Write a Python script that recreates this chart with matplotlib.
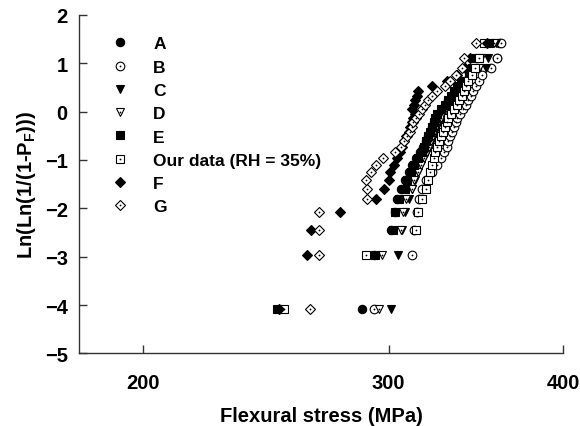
import numpy as np
import matplotlib
matplotlib.use('Agg')
import matplotlib.pyplot as plt
from matplotlib.ticker import FixedLocator, FixedFormatter, NullLocator

plt.rcParams['font.family'] = 'Liberation Sans'
plt.rcParams['font.weight'] = 'bold'
plt.rcParams['mathtext.fontset'] = 'custom'
plt.rcParams['mathtext.rm'] = 'Liberation Sans:bold'
plt.rcParams['mathtext.bf'] = 'Liberation Sans:bold'
plt.rcParams['mathtext.default'] = 'bf'

# Weibull plotting positions Ln(Ln(1/(1-PF))), 30 specimens per series
rank_y = [-4.086, -2.970, -2.442, -2.087, -1.817, -1.597, -1.410, -1.246, -1.099, -0.966,
          -0.842, -0.727, -0.618, -0.514, -0.415, -0.319, -0.225, -0.133, -0.042, 0.049,
          0.140, 0.232, 0.327, 0.425, 0.529, 0.640, 0.765, 0.910, 1.097, 1.410]

# flexural stress (MPa)
stress_A = [287, 293, 301, 303, 304, 306, 308, 310, 312, 314, 316, 317.5, 319, 320, 321,
            322, 323, 324.5, 326, 327.5, 329, 331, 333, 335, 337, 340, 343, 347, 358.7, 360]
stress_B = [293, 311.8, 313, 314.5, 315.5, 317, 319, 322, 325, 327, 328.5, 330, 331, 332, 333,
            334, 335, 336, 337.5, 339, 340.5, 342, 343.5, 345, 346.5, 348, 350, 355, 358.7, 361]
stress_C = [301.3, 304.5, 306.5, 308, 310, 312, 313.5, 315, 316.5, 318, 319.5, 321, 322, 323, 324,
            325, 326, 327.5, 329, 330.5, 332, 333.5, 335, 337, 339, 341, 344, 352, 353.6, 358]
stress_D = [295.4, 296.7, 306, 307, 308.8, 311.7, 313, 315, 316.5, 318, 319.5, 320.5, 321.5, 322.5, 323.5,
            324.5, 325.5, 327, 328.5, 330, 332, 334, 336, 338, 340, 342, 345, 348.4, 349.2, 357]
stress_E = [249.6, 293.5, 302, 303, 305, 308.3, 309.2, 311, 313, 315, 317, 318, 319, 320, 321,
            322, 323, 324, 325, 327, 329, 331, 332.5, 334, 335.5, 338, 342.2, 344, 345.9, 354]
stress_ours = [252.3, 289, 314, 315, 317, 318.9, 320, 321, 322, 323, 324, 325, 326, 327, 328,
               329, 330, 331, 332.5, 334, 335.5, 337, 338.5, 339.5, 340.5, 342, 344, 345.6, 348, 351]
stress_F = [250.5, 262, 264, 277, 294, 297.5, 300, 300.8, 302.5, 304, 305.8, 306.6, 307.8, 308.8, 310,
            310.8, 311.7, 312.5, 313.5, 312, 312.8, 313.5, 314.2, 315, 322.3, 330, 336, 340, 342.8, 352.8]
stress_G = [263.4, 267.5, 267.5, 267.3, 289.4, 289.4, 289.2, 291.4, 294, 297, 303, 306, 307.5, 309, 310.5,
            311.5, 312.5, 314, 315.5, 317, 318.5, 320, 322, 325, 329, 332, 335, 338.8, 339.5, 346.5]

series_labels = ['A', 'B', 'C', 'D', 'E', 'Our data (RH = 35%)', 'F', 'G']
series_data = [stress_A, stress_B, stress_C, stress_D, stress_E, stress_ours, stress_F, stress_G]
# marker, size, filled, centre dot
styles = [('o', 6.0, True, False), ('o', 6.2, False, True), ('v', 6.2, True, False),
          ('v', 6.2, False, True), ('s', 5.2, True, False), ('s', 5.2, False, True),
          ('D', 4.9, True, False), ('D', 5.0, False, True)]

fig = plt.figure(figsize=(5.8, 4.27), dpi=100)
ax = fig.add_axes([0.136, 0.170, 0.835, 0.793])

handles = []
for data, (m, ms, filled, dot) in zip(series_data, styles):
    face = 'black' if filled else 'white'
    h, = ax.plot(data, rank_y, linestyle='none', marker=m, ms=ms, mfc=face,
                 mec='black', mew=0.8)
    if dot:
        hd, = ax.plot(data, rank_y, linestyle='none', marker='o', ms=1.3,
                      mfc='black', mec='black', mew=0)
        handles.append((h, hd))
    else:
        handles.append(h)

ax.set_xscale('log')
ax.set_xlim(180, 400)
ax.set_ylim(-5, 2)
ax.xaxis.set_major_locator(FixedLocator([200, 300, 400]))
ax.xaxis.set_major_formatter(FixedFormatter(['200', '300', '400']))
ax.xaxis.set_minor_locator(NullLocator())
ax.set_yticks(range(-5, 3))

ax.spines['top'].set_visible(False)
ax.spines['right'].set_visible(False)
for s in ['left', 'bottom']:
    ax.spines[s].set_linewidth(1.0)
    ax.spines[s].set_color('#333333')
ax.tick_params(axis='both', direction='in', length=6, width=1.0, color='#333333',
               labelsize=14.5)
ax.tick_params(axis='y', pad=8)
ax.tick_params(axis='x', pad=14)

ax.set_xlabel('Flexural stress (MPa)', fontsize=14.5, fontweight='bold', labelpad=10)
ax.set_ylabel(r'Ln(Ln(1/(1-P$_F$)))', fontsize=14.5, fontweight='bold', labelpad=5)

ax.legend(handles, series_labels, loc='upper left', bbox_to_anchor=(0.0676, 0.937),
          frameon=False, fontsize=12.5, handlelength=1.0, handletextpad=1.4,
          labelspacing=0.47, borderaxespad=0, borderpad=0)

fig.savefig('out.png', dpi=100)
